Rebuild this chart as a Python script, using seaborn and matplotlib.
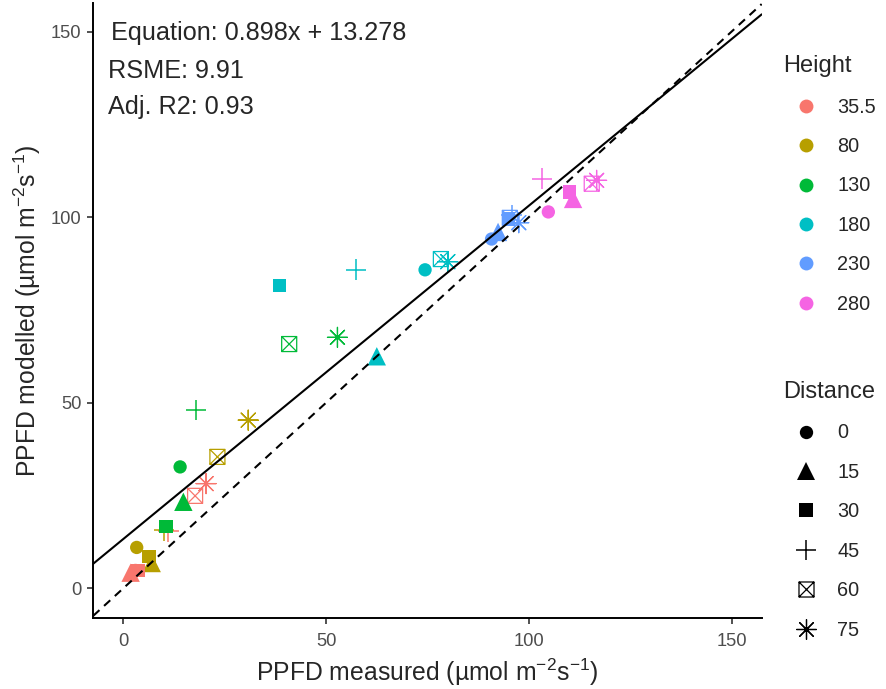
import numpy as np
import pandas as pd
import matplotlib
matplotlib.use("Agg")
import matplotlib.pyplot as plt
import seaborn as sns
from matplotlib.path import Path
from matplotlib.markers import MarkerStyle
from matplotlib.lines import Line2D

# ---------------- data ----------------
heights = [35.5, 80, 130, 180, 230, 280]
distances = [0, 15, 30, 45, 60, 75]
height_colors = ["#F8766D", "#B79F00", "#00BA38", "#00BFC4", "#619CFF", "#F564E3"]

# measured / modelled per height, ordered by distance 0,15,30,45,60,75
measured_h35 = [3.0, 1.8, 3.6, 11.1, 17.7, 20.4]
modelled_h35 = [4.8, 4.2, 4.8, 15.3, 24.9, 28.2]
measured_h80 = [3.3, 7.0, 6.3, 10.0, 23.2, 30.8]
modelled_h80 = [11.0, 6.8, 8.5, 15.6, 35.4, 45.3]
measured_h130 = [14.0, 14.8, 10.5, 17.9, 40.9, 52.8]
modelled_h130 = [32.7, 23.3, 16.6, 48.0, 65.8, 67.6]
measured_h180 = [74.4, 62.5, 38.5, 57.4, 78.3, 80.0]
modelled_h180 = [85.8, 62.5, 81.5, 85.8, 88.7, 88.0]
measured_h230 = [90.8, 92.4, 94.9, 95.8, 95.3, 97.5]
modelled_h230 = [94.1, 96.0, 99.5, 100.5, 99.8, 98.5]
measured_h280 = [104.8, 110.9, 110.0, 103.2, 115.5, 116.7]
modelled_h280 = [101.4, 104.9, 106.8, 110.4, 109.0, 109.9]

fit_slope = 0.898
fit_intercept = 13.278
rmse_value = 9.91
adj_r2_value = 0.93

x_ticks = [0, 50, 100, 150]
y_ticks = [0, 50, 100, 150]

measured_all = [measured_h35, measured_h80, measured_h130, measured_h180, measured_h230, measured_h280]
modelled_all = [modelled_h35, modelled_h80, modelled_h130, modelled_h180, modelled_h230, modelled_h280]

rows = []
for h, mx, my in zip(heights, measured_all, modelled_all):
    for d, xv, yv in zip(distances, mx, my):
        rows.append({"Height": h, "Distance": d, "measured": xv, "modelled": yv})
df = pd.DataFrame(rows)

# ---------------- style ----------------
sns.set_style("ticks")
plt.rcParams["font.family"] = ["Liberation Sans", "DejaVu Sans"]
plt.rcParams["mathtext.fontset"] = "custom"
plt.rcParams["mathtext.rm"] = "Liberation Sans"
plt.rcParams["mathtext.it"] = "Liberation Sans:italic"
plt.rcParams["mathtext.bf"] = "Liberation Sans:bold"
plt.rcParams["mathtext.default"] = "rm"

# crossed-square marker (square with X)
_cs_verts = [(-1, -1), (1, -1), (1, 1), (-1, 1), (-1, -1),
             (-1, -1), (1, 1), (-1, 1), (1, -1)]
_cs_codes = [Path.MOVETO, Path.LINETO, Path.LINETO, Path.LINETO, Path.CLOSEPOLY,
             Path.MOVETO, Path.LINETO, Path.MOVETO, Path.LINETO]
crossed_square = MarkerStyle(Path(_cs_verts, _cs_codes), fillstyle="none")
asterisk = MarkerStyle((8, 2, 0))

marker_spec = {
    0: dict(marker="o", s=92, filled=True, lw=0),
    15: dict(marker="^", s=175, filled=True, lw=0),
    30: dict(marker="s", s=92, filled=True, lw=0),
    45: dict(marker="+", s=222, filled=False, lw=1.1),
    60: dict(marker=crossed_square, s=117, filled=False, lw=0.9),
    75: dict(marker=asterisk, s=207, filled=False, lw=0.9),
}
palette = dict(zip(heights, height_colors))

fig = plt.figure(figsize=(8.87, 6.89), dpi=100)
ax = fig.add_axes([0.1052, 0.1031, 0.7535, 0.8926])

draw_order = [45, 60, 75, 0, 15, 30]
for d in draw_order:
    spec = marker_spec[d]
    sub = df[df["Distance"] == d]
    if spec["filled"]:
        sns.scatterplot(data=sub, x="measured", y="modelled", hue="Height",
                        hue_order=heights, palette=palette, marker=spec["marker"],
                        s=spec["s"], edgecolor="none", linewidth=0,
                        legend=False, ax=ax, zorder=3)
    else:
        sns.scatterplot(data=sub, x="measured", y="modelled", hue="Height",
                        hue_order=heights, palette=palette, marker=spec["marker"],
                        s=spec["s"], linewidth=spec["lw"],
                        legend=False, ax=ax, zorder=3)
        if d == 60:
            coll = ax.collections[-1]
            fc = coll.get_facecolors()
            coll.set_edgecolors(fc)
            coll.set_facecolors("none")

# regression and 1:1 lines
ax.axline((0, fit_intercept), slope=fit_slope, color="black", lw=1.5, zorder=4)
ax.axline((0, 0), slope=1, color="black", lw=1.5, ls=(0, (4, 3)), zorder=4)

ax.set_xlim(-7.4, 157.4)
ax.set_ylim(-8.0, 157.7)
ax.set_xticks(x_ticks)
ax.set_yticks(y_ticks)

for sp in ["top", "right"]:
    ax.spines[sp].set_visible(False)
for sp in ["left", "bottom"]:
    ax.spines[sp].set_linewidth(1.4)
    ax.spines[sp].set_color("black")
ax.tick_params(axis="both", length=4.5, width=1.2, color="#333333",
               labelcolor="#4D4D4D", labelsize=13.2)
ax.tick_params(axis="x", pad=6)
ax.tick_params(axis="y", pad=4)

ax.set_xlabel(r"PPFD measured (µmol m$^{-2}$s$^{-1}$)", fontsize=17.8, labelpad=5)
ax.set_ylabel(r"PPFD modelled (µmol m$^{-2}$s$^{-1}$)", fontsize=17.8, labelpad=6)

ax.text(-3.0, 149.5, f"Equation: {fit_slope}x + {fit_intercept}", fontsize=18.2,
        ha="left", va="center")
ax.text(-3.9, 139.5, f"RSME: {rmse_value}", fontsize=18.2, ha="left", va="center")
ax.text(-3.9, 129.8, f"Adj. R2: {adj_r2_value}", fontsize=18.2, ha="left", va="center")

# legends
h_handles = [Line2D([], [], marker="o", linestyle="", color=c, markersize=10,
                    markeredgewidth=0) for c in height_colors]
leg1 = fig.legend(h_handles, [f"{h:g}" for h in heights], title="Height",
                  loc="upper left", bbox_to_anchor=(0.8828, 0.920), frameon=False,
                  fontsize=14.3, title_fontsize=17, borderpad=0, borderaxespad=0,
                  handlelength=2.3, handletextpad=0.44, labelspacing=1.03,
                  alignment="left")

d_handles = []
for d in distances:
    spec = marker_spec[d]
    if spec["filled"]:
        d_handles.append(Line2D([], [], marker=spec["marker"], linestyle="", color="black",
                                markersize=np.sqrt(spec["s"]), markeredgewidth=0))
    else:
        d_handles.append(Line2D([], [], marker=spec["marker"], linestyle="", color="black",
                                markerfacecolor="none",
                                markersize=np.sqrt(spec["s"]), markeredgewidth=spec["lw"]))
leg2 = fig.legend(d_handles, [str(d) for d in distances], title="Distance",
                  loc="upper left", bbox_to_anchor=(0.8828, 0.447), frameon=False,
                  fontsize=14.3, title_fontsize=17, borderpad=0, borderaxespad=0,
                  handlelength=2.3, handletextpad=0.44, labelspacing=1.03,
                  alignment="left")

fig.savefig("out.png", dpi=100)
